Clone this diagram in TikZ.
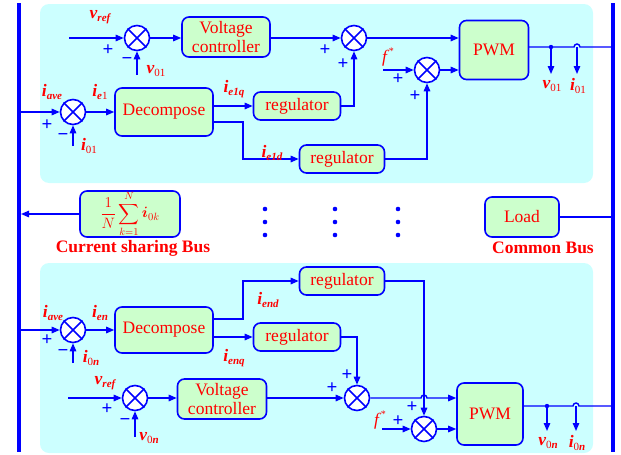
\RequirePackage{fix-cm}
\documentclass[tikz,border=0pt]{standalone}
\usepackage{amsmath,bm}
\usepackage{fontspec}
\setmainfont{Liberation Serif}
\usetikzlibrary{arrows.meta}
\definecolor{panel}{HTML}{CCFFFF}
\definecolor{boxg}{HTML}{CCFFCC}
\definecolor{lblue}{HTML}{0000FF}
\definecolor{tred}{HTML}{FF0000}
\newcommand\vb[1]{{\bfseries\itshape #1}}
\newcommand\sbs[1]{\raisebox{-0.4ex}{\fontsize{11}{12}\selectfont #1}}
\newcommand\sumx[1]{\draw[lblue,line width=1.5pt] (#1.north west)--(#1.south east) (#1.north east)--(#1.south west);}
\begin{document}
\begin{tikzpicture}[x=1pt,y=-1pt,
  blk/.style={draw=lblue, fill=boxg, line width=1.6pt, rounded corners=7pt, text=tred,
    font=\fontsize{17.5}{19.5}\selectfont, align=center, inner sep=0pt},
  sumc/.style={circle, draw=lblue, fill=white, line width=1.6pt, minimum size=25pt, inner sep=0pt},
  lbl/.style={text=tred, font=\fontsize{17.5}{18}\selectfont, inner sep=0pt},
  sgn/.style={text=lblue, font=\fontsize{19}{19}\selectfont\bfseries, inner sep=0pt},
  bus/.style={draw=lblue, line width=4.5pt},
  wire/.style={draw=lblue, line width=1.4pt},
  conn/.style={wire, -{Triangle[length=8pt,width=6.5pt]}},
  dotc/.style={fill=lblue}]
\useasboundingbox (0,0) rectangle (621,455);
% panels
\fill[panel, rounded corners=9pt] (40,4) rectangle (593,183);
\fill[panel, rounded corners=9pt] (40,263) rectangle (593,453);
% buses
\draw[bus] (19,3) -- (19,452);
\draw[bus] (613,3) -- (613,452);

% ================= top module =================
\node[sumc] (s1) at (137,38) {}; \sumx{s1}
\node[blk, minimum width=88pt, minimum height=40pt] (vc1) at (226,37) {Voltage\\controller};
\node[sumc] (s2) at (354,38) {}; \sumx{s2}
\node[blk, minimum width=69pt, minimum height=59pt] (pwm1) at (494,50) {PWM};
\node[sumc] (s3) at (427,70) {}; \sumx{s3}
\node[sumc] (s4) at (73,112) {}; \sumx{s4}
\node[blk, minimum width=98pt, minimum height=48pt] (dec1) at (164,112) {Decompose};
\node[blk, minimum width=87pt, minimum height=28pt] (r1a) at (297,106) {regulator};
\node[blk, minimum width=85pt, minimum height=28pt] (r1b) at (342,159) {regulator};

\coordinate (vin1) at (69,38);
\coordinate (v01s) at (137,75);
\coordinate (iave1) at (21,112);
\coordinate (i01s) at (73,146);
\coordinate (fin1) at (383,70);
\coordinate (k1) at (243,122);
\coordinate (po1) at (528,47);
\coordinate (h1) at (574,47);
\coordinate (bo1) at (611,47);
\coordinate (jv1) at (551,47);
\coordinate (ji1) at (577,47);
\coordinate (tv1) at (551,74);
\coordinate (ti1) at (577,74);

\draw[conn] (vin1) -- (s1);
\draw[conn] (v01s) -- (s1);
\draw[conn] (s1.east) -- (s1.east -| vc1.west);
\draw[conn] (vc1.east |- s2) -- (s2);
\draw[conn] (s2) -- (s2 -| pwm1.west);
\draw[conn] (fin1) -- (s3);
\draw[conn] (s3) -- (s3 -| pwm1.west);
\draw[conn] (iave1) -- (s4);
\draw[conn] (i01s) -- (s4);
\draw[conn] (s4) -- (dec1);
\draw[conn] (dec1.east |- r1a) -- (r1a);
\draw[conn] (r1a) -| (s2);
\draw[conn] (k1 -| dec1.east) -- (k1) |- (r1b);
\draw[conn] (r1b) -| (s3);
\draw[wire] (po1) -- (h1) arc (180:360:3) -- (bo1);
\fill[dotc] (jv1) circle (2.2);
\draw[conn] (jv1) -- (tv1);
\draw[conn] (ji1) -- (ti1);

\node[lbl] (l1) at (100,17) {\vb{v}\sbs{\vb{ref}}};
\node[sgn] (p1) at (108,50) {+};
\node[sgn] (m1) at (127,61) {−};
\node[lbl] (l2) at (156,71) {\vb{v}\sbs{01}};
\node[lbl] (l3) at (52,92) {\vb{i}\sbs{\vb{ave}}};
\node[lbl] (l4) at (100,92) {\vb{i}\sbs{\vb{e}1}};
\node[sgn] (p2) at (47,125) {+};
\node[sgn] (m2) at (63,137) {−};
\node[lbl] (l5) at (89,146) {\vb{i}\sbs{01}};
\node[lbl] (l6) at (234,89) {\vb{i}\sbs{\vb{e1q}}};
\node[lbl] (l7) at (272,153) {\vb{i}\sbs{\vb{e1d}}};
\node[sgn] (p3) at (325,50) {+};
\node[sgn] (p4) at (343,64) {+};
\node[lbl] (l8) at (388,57) {\textit{f}\raisebox{0.9ex}{\fontsize{10}{10}\selectfont *}};
\node[sgn] (p5) at (398,79) {+};
\node[sgn] (p6) at (415,96) {+};
\node[lbl] (l9) at (552,86) {\vb{v}\sbs{01}};
\node[lbl] (l10) at (578,86) {\vb{i}\sbs{01}};

% ================= middle =================
\node[blk, minimum width=100pt, minimum height=46pt] (avg) at (130,214)
  {\fontsize{15}{17}\selectfont$\displaystyle\frac{1}{N}\sum_{k=1}^{N}\bm{i}_{0k}$};
\coordinate (busA) at (21,214);
\draw[conn] (avg.west) -- (busA);
\node[text=tred, font=\fontsize{17.5}{19}\selectfont\bfseries, inner sep=0pt] (csb) at (133,248) {Current sharing Bus};
\node[blk, minimum width=74pt, minimum height=40pt] (load) at (522,217) {Load};
\coordinate (busB) at (611,217);
\draw[wire] (load.east) -- (busB);
\node[text=tred, font=\fontsize{17.5}{19}\selectfont\bfseries, inner sep=0pt] (cb) at (543,248) {Common Bus};
\foreach \x in {265,335,398}{
  \foreach \y in {209,222,235}{ \fill[dotc] (\x,\y) circle (2.3); }}

% ================= bottom module =================
\node[sumc] (s5) at (73,330) {}; \sumx{s5}
\node[blk, minimum width=98pt, minimum height=46pt] (dec2) at (164,330) {Decompose};
\node[blk, minimum width=85pt, minimum height=28pt] (r2a) at (342,281) {regulator};
\node[blk, minimum width=87pt, minimum height=28pt] (r2b) at (297,337) {regulator};
\node[sumc] (s7) at (135,398) {}; \sumx{s7}
\node[blk, minimum width=89pt, minimum height=40pt] (vc2) at (222,399) {Voltage\\controller};
\node[sumc] (s6) at (357,398) {}; \sumx{s6}
\node[blk, minimum width=66pt, minimum height=62pt] (pwm2) at (490,414) {PWM};
\node[sumc] (s8) at (424,429) {}; \sumx{s8}

\coordinate (iave2) at (21,330);
\coordinate (i0ns) at (73,363);
\coordinate (k2) at (243,319);
\coordinate (vin2) at (68,398);
\coordinate (v0ns) at (135,437);
\coordinate (h2) at (421,398);
\coordinate (fin2) at (382,429);
\coordinate (po2) at (523,406);
\coordinate (h3) at (573,406);
\coordinate (bo2) at (611,406);
\coordinate (jv2) at (547,406);
\coordinate (ji2) at (576,406);
\coordinate (tv2) at (547,431);
\coordinate (ti2) at (576,431);

\draw[conn] (iave2) -- (s5);
\draw[conn] (i0ns) -- (s5);
\draw[conn] (s5) -- (dec2);
\draw[conn] (k2 -| dec2.east) -- (k2) |- (r2a);
\draw[conn] (dec2.east |- r2b) -- (r2b);
\draw[conn] (r2b) -| (s6);
\draw[conn] (vin2) -- (s7);
\draw[conn] (v0ns) -- (s7);
\draw[conn] (s7.east) -- (s7.east -| vc2.west);
\draw[conn] (vc2.east |- s6) -- (s6);
\draw[conn] (r2a) -| (s8);
\draw[conn] (s6.east) -- (h2) arc (180:360:3) -- (h2 -| pwm2.west);
\draw[conn] (fin2) -- (s8);
\draw[conn] (s8) -- (s8 -| pwm2.west);
\draw[wire] (po2) -- (h3) arc (180:360:3) -- (bo2);
\fill[dotc] (jv2) circle (2.2);
\draw[conn] (jv2) -- (tv2);
\draw[conn] (ji2) -- (ti2);

\node[lbl] (b1) at (53,313) {\vb{i}\sbs{\vb{ave}}};
\node[lbl] (b2) at (100,313) {\vb{i}\sbs{\vb{en}}};
\node[sgn] (q1) at (47,340) {+};
\node[sgn] (n1) at (63,353) {−};
\node[lbl] (b3) at (91,358) {\vb{i}\sbs{0\vb{n}}};
\node[lbl] (b4) at (268,300) {\vb{i}\sbs{\vb{end}}};
\node[lbl] (b5) at (234,358) {\vb{i}\sbs{\vb{enq}}};
\node[lbl] (b6) at (105,383) {\vb{v}\sbs{\vb{ref}}};
\node[sgn] (q2) at (107,409) {+};
\node[sgn] (n2) at (125,422) {−};
\node[lbl] (b7) at (149,438) {\vb{v}\sbs{0\vb{n}}};
\node[sgn] (q3) at (332,388) {+};
\node[sgn] (q4) at (347,375) {+};
\node[lbl] (b8) at (380,420) {\textit{f}\raisebox{0.9ex}{\fontsize{10}{10}\selectfont *}};
\node[sgn] (q5) at (398,421) {+};
\node[sgn] (q6) at (412,407) {+};
\node[lbl] (b9) at (548,443) {\vb{v}\sbs{0\vb{n}}};
\node[lbl] (b10) at (577,443) {\vb{i}\sbs{0\vb{n}}};
\end{tikzpicture}
\end{document}
